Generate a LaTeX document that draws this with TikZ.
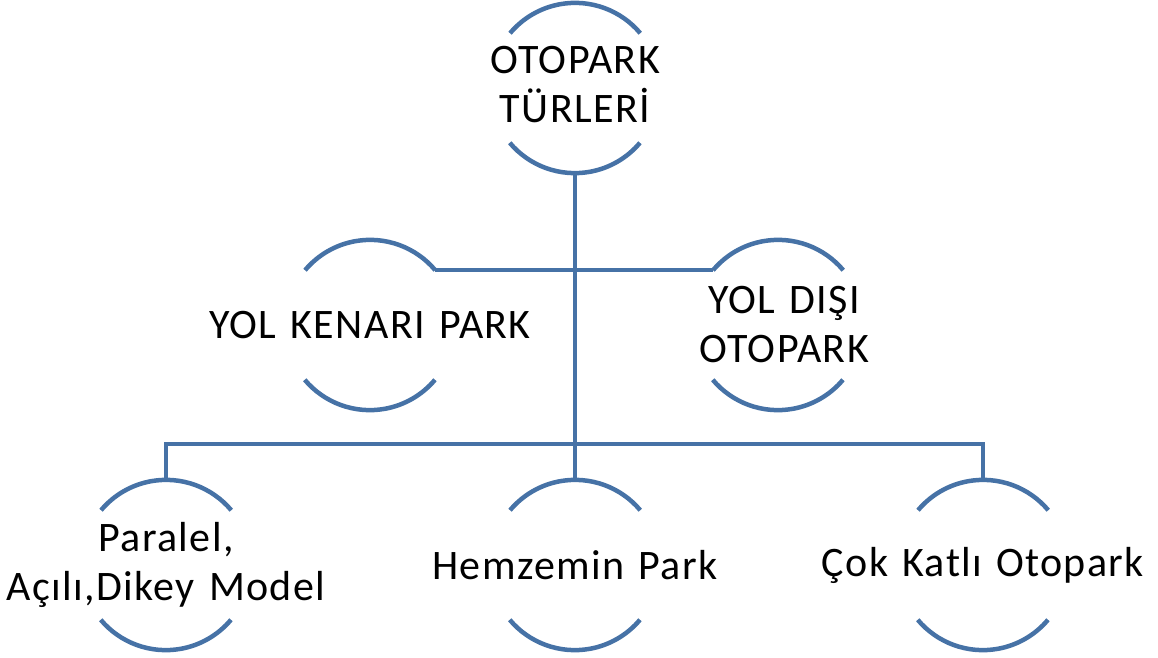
\documentclass[tikz,border=0pt]{standalone}
\usepackage{fontspec}
\setmainfont{Carlito}
\newfontfamily\lblfam[LetterSpace=3.3,WordSpace=1.3]{Carlito}
\definecolor{lineblue}{RGB}{70,114,166}
\newcommand{\lblfont}{\lblfam\fontsize{42}{49}\selectfont}
\begin{document}
\begin{tikzpicture}[x=1pt,y=1pt]
\tikzset{
  ring/.style={circle, minimum size=170pt, inner sep=0pt, draw=none},
  arcline/.style={draw=lineblue, line width=4.5pt},
  conn/.style={draw=lineblue, line width=4.5pt},
  lbl/.style={align=center, font=\lblfont, text=black, inner sep=0pt}
}
\useasboundingbox (0,0) rectangle (1158,657);
% ring nodes
\node[ring] (top) at (575,569) {};
\node[ring] (yl) at (370,332) {};
\node[ring] (yd) at (778,332) {};
\node[ring] (b1) at (166,92) {};
\node[ring] (b2) at (575,92) {};
\node[ring] (b3) at (983,92) {};
% arcs
\foreach \n in {top,yl,yd,b1,b2,b3}{
  \draw[arcline] (\n.40) arc[start angle=40,end angle=140,radius=85pt];
  \draw[arcline] (\n.220) arc[start angle=220,end angle=320,radius=85pt];
}
% connectors
\draw[conn] (top.south) -- (b2.north);
\draw[conn] (yl.40) -- (yd.140);
\draw[conn] (b1.north) -- ++(0,36) -| (b3.north);
% labels
\node[lbl] (ttop) at ([yshift=3pt]top.center) {OTOPARK\\TÜRLERİ};
\node[lbl] (tyl) at (yl) {YOL KENARI PARK};
\node[lbl] (tyd) at ([xshift=6pt]yd.center) {YOL DIŞI\\OTOPARK};
\node[lbl] (tb1) at (b1) {Paralel,\\Açılı,Dikey Model};
\node[lbl] (tb2) at (b2) {Hemzemin Park};
\node[lbl] (tb3) at (b3) {Çok Katlı Otopark};
\end{tikzpicture}
\end{document}
